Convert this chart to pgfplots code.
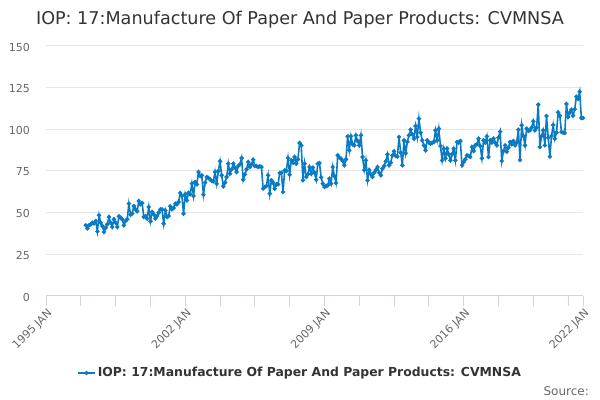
\documentclass[border=0pt]{standalone}
\usepackage{pgfplots}
\pgfplotsset{compat=1.18}
\usepackage{fontspec}
\setmainfont{DejaVu Sans}
\definecolor{series}{HTML}{0A7BC2}
\definecolor{titlec}{HTML}{333333}
\definecolor{tickc}{HTML}{666666}
\definecolor{gridc}{HTML}{E6E6E6}
\definecolor{axisc}{HTML}{CCD6EB}
\pgfplotstableread{
m v
24 42.4
25 40.5
26 42.5
27 43
28 44
29 43.5
30 45
31 38.8
32 48.4
33 44
34 42
35 38.4
36 41
37 43
38 47.4
39 44
40 41.4
41 46
42 44
43 41.4
44 47.8
45 47
46 46
47 42.4
48 45
49 46
50 55.4
51 48.8
52 49.5
53 54
54 52
55 50.8
56 57
57 55
58 55.8
59 47.4
60 48
61 46.4
62 53.4
63 44.8
64 50.4
65 49
66 46.4
67 48
68 50
69 52
70 52
71 43.4
72 51.4
73 47.4
74 48
75 53.8
76 52
77 52.8
78 55.4
79 55
80 56.4
81 61.8
82 60
83 49.4
84 61
85 57.4
86 62
87 61
88 67.4
89 60
90 68.4
91 67
92 74.4
93 72
94 72.4
95 60.8
96 68
97 71.4
98 70.8
99 70
100 69
101 68.8
102 74.4
103 67.4
104 75
105 80.8
106 72.4
107 65.8
108 68
109 71.4
110 79.4
111 73.4
112 76
113 79.4
114 77
115 74.4
116 78
117 79
118 82.8
119 69.8
120 73
121 76
122 80.4
123 77.4
124 79
125 81.8
126 78
127 78
128 77.4
129 77.8
130 77.4
131 64.4
132 65.4
133 66
134 72.4
135 61.4
136 69.4
137 68
138 64.4
139 67
140 67
141 73.8
142 74
143 62.4
144 75.4
145 75
146 82.8
147 72.8
148 81.4
149 80
150 83.4
151 79.4
152 82
153 91.8
154 90.4
155 69.4
156 79.4
157 71.4
158 73
159 77.4
160 73.4
161 77
162 74
163 69.8
164 79.4
165 79.8
166 71.2
167 67.4
168 65.4
169 66
170 66.4
171 70.4
172 67.4
173 77.4
174 72
175 67.8
176 84.4
177 83
178 82.4
179 81
180 78.4
181 82
182 95.8
183 87.4
184 95.8
185 91
186 90.4
187 96.4
188 93
189 90.4
190 96.4
191 83.4
192 75.6
193 81.4
194 69.4
195 75.6
196 73
197 71.4
198 74
199 75.6
200 77.4
201 74
202 72.4
203 76.4
204 78
205 80.8
206 85
207 78.4
208 80
209 84.4
210 86.8
211 84
212 83.6
213 95.4
214 86
215 78.4
216 93.4
217 85.6
218 92.4
219 96.4
220 99.8
221 97
222 94.4
223 102
224 95.4
225 106.4
226 98
227 93.4
228 90.4
229 87.4
230 93.4
231 92
232 91.4
233 92
234 92.4
235 99.4
236 93.4
237 100.4
238 90
239 81.4
240 88.4
241 82.6
242 88.4
243 85
244 81.4
245 85
246 88.4
247 81.4
248 92.4
249 92
250 93
251 78.4
252 80.4
253 82
254 84.4
255 84
256 83.4
257 89.4
258 87
259 90.4
260 91
261 94.4
262 90
263 82.6
264 93.4
265 92
266 95.8
267 83.4
268 93.4
269 92
270 94.4
271 92
272 90.4
273 95
274 98.6
275 81
276 87
277 90.4
278 86.6
279 89
280 92.4
281 91
282 93
283 90.4
284 92
285 99.8
286 81.6
287 102.4
288 96
289 90.4
290 100.4
291 99
292 99.4
293 101
294 104.8
295 99.4
296 101
297 114.8
298 89.4
299 96
300 99.4
301 90.4
302 108
303 95
304 83.6
305 96
306 102.6
307 94.4
308 98
309 110.2
310 108.2
311 98.4
312 98
313 97.8
314 115.2
315 107.4
316 110
317 111.8
318 108.2
319 112
320 119.6
321 118.2
322 122.6
323 106.8
324 106.8
}\iopdata
\begin{document}
\begin{tikzpicture}
\path[use as bounding box] (0,0) rectangle (600bp,400bp);
\node[anchor=base, text=titlec, font=\fontsize{17.6bp}{21bp}\selectfont, inner sep=0pt] at (300bp,375bp) {IOP: 17:Manufacture Of Paper And Paper Products: CVMNSA};
\node[anchor=base east, text=tickc, font=\fontsize{12bp}{14bp}\selectfont, inner sep=0pt] at (589bp,5bp) {Source:};
\begin{axis}[
  scale only axis,
  width=537bp, height=250bp,
  at={(46bp,104bp)}, anchor=south west,
  xmin=0, xmax=324, ymin=0, ymax=150,
  axis x line*=bottom, axis y line*=left,
  x axis line style={draw=axisc, line width=1bp, -},
  y axis line style={draw=none},
  ytick={0,25,...,150},
  ymajorgrids, grid style={draw=gridc, line width=1bp},
  ytick style={draw=none},
  xtick={0,84,168,252,324},
  xticklabels={1995 JAN,2002 JAN,2009 JAN,2016 JAN,2022 JAN},
  minor xtick={21,42,63,105,126,147,189,210,231,273,294,315},
  xtick style={draw=axisc, line width=1bp},
  minor x tick style={draw=axisc, line width=1bp},
  tick align=outside,
  major tick length=10bp,
  minor tick length=10bp,
  /pgf/number format/assume math mode=true,
  yticklabel style={text=tickc, font=\fontsize{11bp}{13bp}\selectfont, inner sep=0pt, anchor=east, xshift=-6bp, yshift=-1bp},
  xticklabel style={text=tickc, font=\fontsize{11bp}{13bp}\selectfont, inner sep=0pt, rotate=45, anchor=north east, xshift=-1bp, yshift=-2bp},
  legend style={draw=none, fill=none, at={(0.473,-0.308)}, anchor=center,
    font=\bfseries\fontsize{12.4bp}{14bp}\selectfont, text=titlec,
    legend cell align=left, inner sep=0pt},
  legend image code/.code={\draw[mark repeat=2,mark phase=2,#1] plot coordinates {(0bp,0bp) (8.5bp,0bp) (17bp,0bp)};},
  clip=false,
]
\addplot[color=series, line width=1.6bp, mark=*, mark size=1.3bp, mark options={fill=series, draw=series}] table[x=m, y=v] {\iopdata};
\addlegendentry{IOP: 17:Manufacture Of Paper And Paper Products: CVMNSA}
\end{axis}
\end{tikzpicture}
\end{document}
